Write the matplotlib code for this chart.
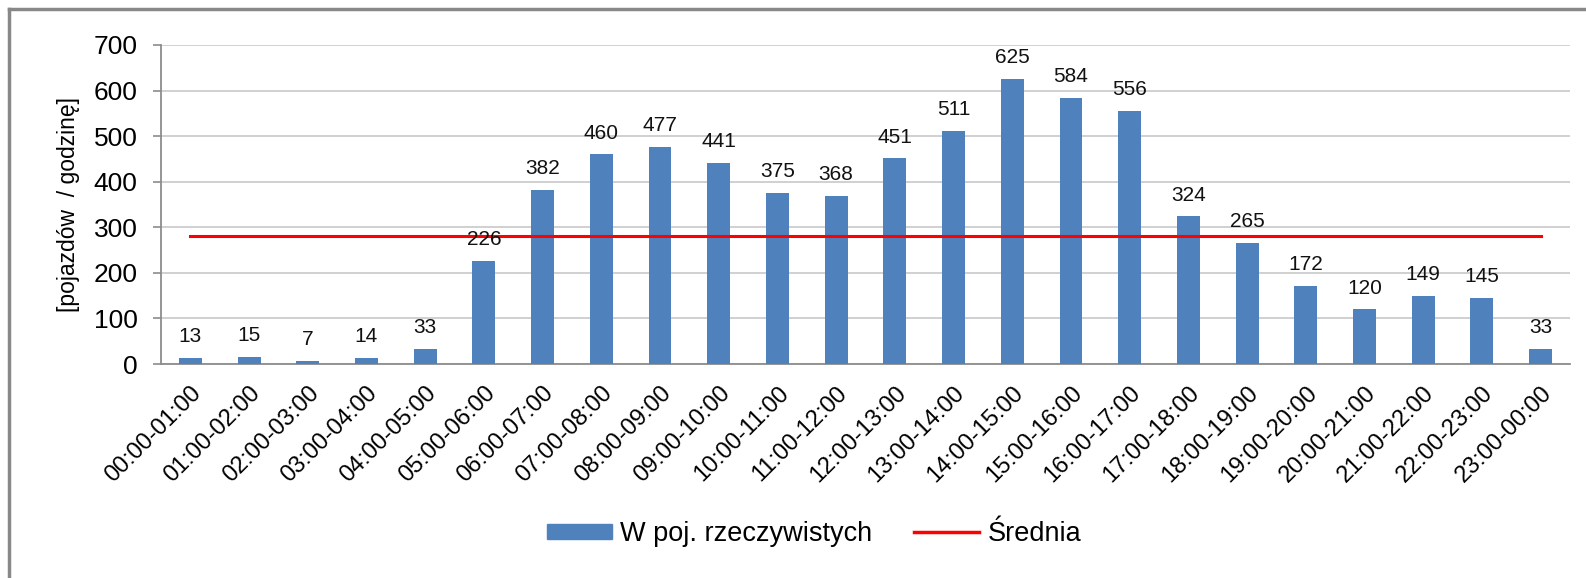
import numpy as np
import matplotlib.pyplot as plt
from matplotlib.lines import Line2D
from matplotlib.patches import Patch

plt.rcParams['font.family'] = ['Liberation Sans', 'DejaVu Sans']

hours = ['00:00-01:00', '01:00-02:00', '02:00-03:00', '03:00-04:00',
         '04:00-05:00', '05:00-06:00', '06:00-07:00', '07:00-08:00',
         '08:00-09:00', '09:00-10:00', '10:00-11:00', '11:00-12:00',
         '12:00-13:00', '13:00-14:00', '14:00-15:00', '15:00-16:00',
         '16:00-17:00', '17:00-18:00', '18:00-19:00', '19:00-20:00',
         '20:00-21:00', '21:00-22:00', '22:00-23:00', '23:00-00:00']
vehicles = [13, 15, 7, 14, 33, 226, 382, 460, 477, 441, 375, 368,
            451, 511, 625, 584, 556, 324, 265, 172, 120, 149, 145, 33]
y_ticks = [0, 100, 200, 300, 400, 500, 600, 700]

bar_color = '#4F81BD'
avg_color = '#FF0000'
grid_color = '#C8C8C8'
axis_color = '#8C8C8C'

fig = plt.figure(figsize=(15.86, 5.78), dpi=100)
ax = fig.add_axes([161 / 1586, 1 - 364 / 578, 1409 / 1586, 319 / 578])

x = np.arange(len(hours))
ax.bar(x, vehicles, width=0.39, color=bar_color, zorder=3)

# average of the hourly values, drawn from first to last category
mean_val = np.mean(vehicles)
ax.plot([x[0], x[-1]], [mean_val, mean_val], color=avg_color, lw=2.2, zorder=4)

for xi, v in zip(x, vehicles):
    ax.annotate(str(v), (xi, v), xytext=(0, 8.5), textcoords='offset points',
                ha='center', va='bottom', fontsize=15, color='#111111', zorder=5)

ax.set_xlim(-0.5, len(hours) - 0.5)
ax.set_ylim(0, 700)
ax.set_yticks(y_ticks)
ax.set_yticklabels([str(t) for t in y_ticks], fontsize=19)
ax.set_xticks(x)
ax.set_xticklabels(hours, rotation=45, ha='right', rotation_mode='anchor', fontsize=17)
ax.tick_params(axis='y', length=6, width=1.2, color=axis_color, pad=11)
ax.tick_params(axis='x', length=0, pad=13)

ax.grid(axis='y', color=grid_color, lw=1.2, zorder=0)
for side in ['top', 'right']:
    ax.spines[side].set_visible(False)
for side in ['left', 'bottom']:
    ax.spines[side].set_color(axis_color)
    ax.spines[side].set_linewidth(1.3)

fig.text(69 / 1586, 1 - 204 / 578, '[pojazdów  / godzinę]', rotation=90,
         ha='center', va='center', fontsize=16.5)

handles = [Patch(color=bar_color), Line2D([], [], color=avg_color, lw=2.5)]
fig.legend(handles, ['W poj. rzeczywistych', 'Średnia'], loc='center',
           bbox_to_anchor=(814 / 1586, 1 - 534 / 578), ncol=2, frameon=False,
           fontsize=19.5, handlelength=2.4, handleheight=0.47, handletextpad=0.3,
           columnspacing=1.55)

# outer chart frame (clipped on the right and bottom)
fig.add_artist(Line2D([9 / 1586, 9 / 1586], [0, 1 - 9 / 578], color='#888888', lw=2.5))
fig.add_artist(Line2D([9 / 1586, 1], [1 - 9 / 578, 1 - 9 / 578], color='#888888', lw=2.5))

fig.savefig('out.png', dpi=100)
